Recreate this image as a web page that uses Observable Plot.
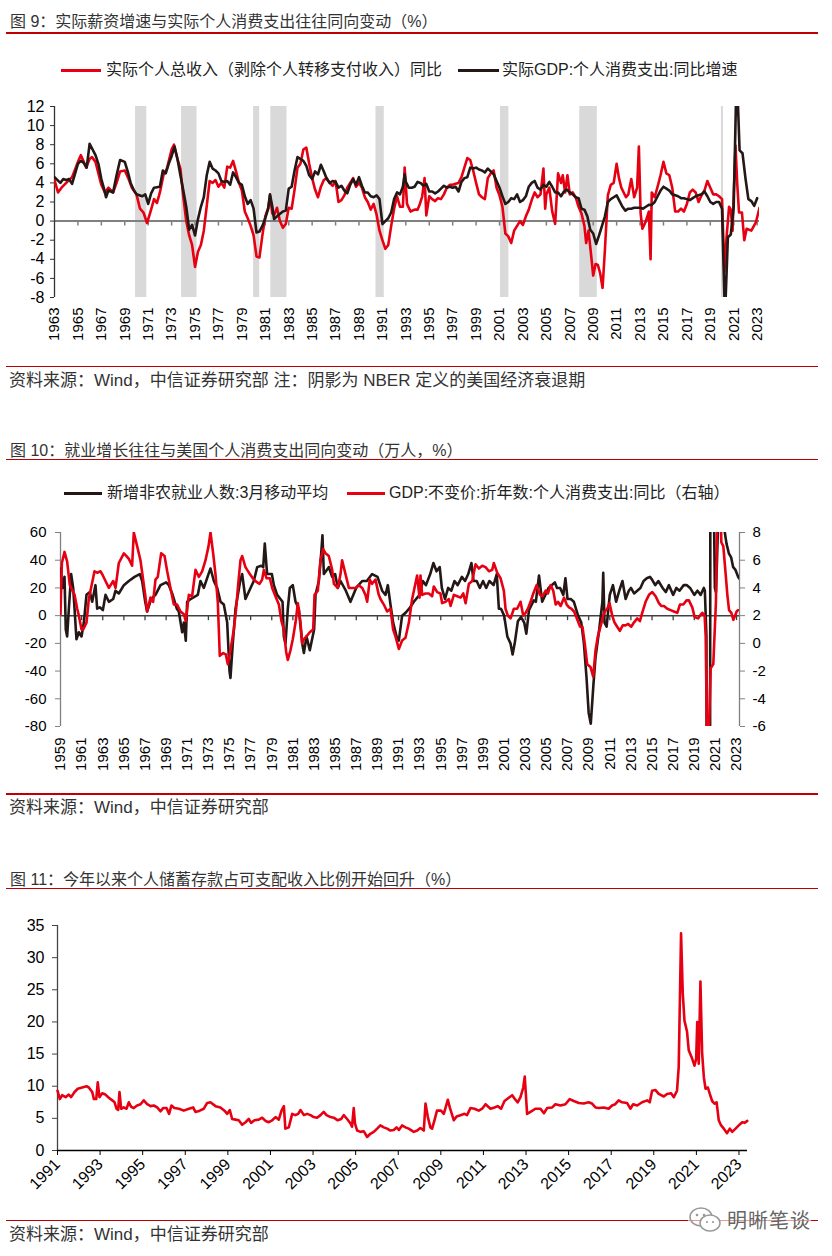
<!DOCTYPE html>
<html><head><meta charset="utf-8">
<script src="https://cdn.jsdelivr.net/npm/d3@7"></script>
<script src="https://cdn.jsdelivr.net/npm/@observablehq/plot@0.6"></script>
<style>
body{margin:0;background:#fff;}
#page{position:relative;width:832px;height:1256px;overflow:hidden;background:#fff;
  font-family:"Liberation Sans",Arial,"Noto Sans CJK SC",sans-serif;color:#333;}
.t{position:absolute;white-space:nowrap;line-height:20px;}
.title{font-size:16px;left:10px;color:#333;}
.src{font-size:17px;left:9px;color:#333;}
.leg{font-size:16px;color:#222;}
.rule{position:absolute;left:6px;width:812px;height:1.5px;background:#c00000;}
.sw{position:absolute;height:3px;}
.chart{position:absolute;left:0;}
</style></head>
<body><div id="page"></div>
<script>
// ---------------- DATA ----------------
// Chart 9: NBER recessions (start, end)
const recessions = [[1969.92,1970.88],[1973.85,1975.17],[1980.0,1980.52],[1981.47,1982.85],[1990.45,1991.16],[2001.08,2001.8],[2007.85,2009.35],[2019.95,2020.12]];
// Real personal income ex transfers, YoY %
const realIncome = [[1963.0,4.3],[1963.3,3.0],[1963.6,3.5],[1964.0,4.0],[1964.5,4.6],[1965.0,6.2],[1965.25,6.9],[1965.5,6.2],[1965.7,5.6],[1966.0,6.5],[1966.2,6.7],[1966.5,6.2],[1967.0,3.8],[1967.3,3.0],[1967.6,3.5],[1968.0,3.0],[1968.3,4.0],[1968.6,5.2],[1969.0,5.3],[1969.3,4.5],[1969.6,3.5],[1970.0,2.8],[1970.3,1.3],[1970.6,0.9],[1970.9,-0.2],[1971.2,1.0],[1971.5,2.3],[1971.75,1.9],[1972.0,3.0],[1972.3,4.8],[1972.6,5.5],[1973.0,7.5],[1973.2,8.0],[1973.5,6.5],[1973.75,5.5],[1974.0,2.5],[1974.25,0.0],[1974.5,-1.5],[1974.75,-2.5],[1975.0,-4.8],[1975.25,-3.2],[1975.5,-2.5],[1975.75,-1.0],[1976.0,1.6],[1976.25,4.2],[1976.5,4.0],[1976.75,4.3],[1977.0,3.6],[1977.25,4.0],[1977.5,3.5],[1977.75,5.7],[1978.0,5.6],[1978.25,6.3],[1978.5,5.2],[1978.75,4.0],[1979.0,3.2],[1979.25,1.0],[1979.5,0.3],[1979.75,-0.5],[1980.0,-1.5],[1980.25,-3.7],[1980.5,-3.8],[1980.75,-1.5],[1981.0,0.5],[1981.25,1.4],[1981.4,2.7],[1981.6,0.8],[1981.75,0.6],[1982.0,1.4],[1982.25,0.0],[1982.5,-0.7],[1982.75,-0.3],[1983.0,1.4],[1983.25,1.3],[1983.5,3.3],[1983.75,5.6],[1984.0,6.0],[1984.25,7.5],[1984.5,7.7],[1984.75,6.0],[1985.0,4.5],[1985.25,3.3],[1985.5,2.5],[1985.75,3.6],[1986.0,4.3],[1986.25,4.5],[1986.5,4.0],[1986.75,3.7],[1987.0,4.2],[1987.25,2.0],[1987.5,2.2],[1987.75,2.7],[1988.0,3.5],[1988.25,4.0],[1988.5,4.5],[1988.75,3.6],[1989.0,4.0],[1989.25,3.5],[1989.5,2.5],[1989.75,2.0],[1990.0,1.2],[1990.25,1.8],[1990.5,0.7],[1990.75,-1.0],[1991.0,-2.0],[1991.25,-2.9],[1991.5,-2.5],[1991.75,-0.5],[1992.0,1.3],[1992.25,2.6],[1992.5,1.5],[1992.75,1.5],[1992.9,5.6],[1993.1,1.8],[1993.4,1.0],[1993.75,1.2],[1994.0,1.2],[1994.2,1.8],[1994.4,2.6],[1994.6,4.5],[1994.75,0.6],[1995.0,2.6],[1995.25,2.3],[1995.5,2.1],[1995.75,2.4],[1996.0,2.3],[1996.25,2.8],[1996.5,3.5],[1996.75,3.8],[1997.0,3.8],[1997.25,3.9],[1997.5,4.0],[1997.75,4.6],[1998.0,5.6],[1998.25,6.6],[1998.5,6.4],[1998.75,5.3],[1999.0,4.0],[1999.25,2.8],[1999.5,2.5],[1999.75,2.3],[2000.0,4.5],[2000.25,5.0],[2000.5,5.3],[2000.75,3.5],[2001.0,2.7],[2001.25,1.5],[2001.5,-1.3],[2001.75,-1.6],[2002.0,-2.3],[2002.25,-1.0],[2002.5,-0.5],[2002.75,0.0],[2003.0,-0.4],[2003.25,0.5],[2003.5,1.2],[2003.75,2.2],[2004.0,3.0],[2004.25,2.5],[2004.5,2.8],[2004.75,5.5],[2004.9,1.3],[2005.0,2.8],[2005.25,3.5],[2005.5,1.0],[2005.75,-0.3],[2006.0,5.0],[2006.25,4.0],[2006.4,4.8],[2006.6,3.0],[2006.8,4.8],[2007.0,2.8],[2007.25,3.0],[2007.5,2.5],[2007.75,1.5],[2008.0,0.8],[2008.25,-0.5],[2008.4,-2.3],[2008.6,-1.0],[2008.8,-3.3],[2009.0,-5.7],[2009.2,-4.5],[2009.4,-4.6],[2009.6,-5.5],[2009.8,-7.0],[2010.0,-3.0],[2010.25,2.7],[2010.5,3.8],[2010.75,4.0],[2011.0,6.0],[2011.2,4.5],[2011.4,3.5],[2011.6,3.0],[2011.8,2.5],[2012.0,2.8],[2012.25,4.4],[2012.5,2.5],[2012.75,3.5],[2012.9,7.8],[2013.05,0.8],[2013.2,-0.8],[2013.5,0.0],[2013.75,1.0],[2013.9,-4.0],[2014.0,3.0],[2014.25,2.5],[2014.5,3.6],[2014.75,4.8],[2015.0,6.2],[2015.25,5.0],[2015.5,4.8],[2015.75,3.5],[2016.0,1.0],[2016.25,1.0],[2016.5,1.3],[2016.75,1.0],[2017.0,1.8],[2017.25,3.0],[2017.5,3.3],[2017.75,3.0],[2018.0,2.0],[2018.25,2.7],[2018.5,3.2],[2018.75,4.2],[2019.0,3.5],[2019.25,2.8],[2019.5,2.8],[2019.75,2.6],[2020.0,2.3],[2020.2,-5.3],[2020.4,-1.5],[2020.6,1.5],[2020.75,1.2],[2020.9,-1.0],[2021.0,3.0],[2021.15,7.9],[2021.3,3.9],[2021.45,0.9],[2021.7,0.9],[2021.9,-2.0],[2022.1,-0.8],[2022.5,-1.0],[2022.9,-0.1],[2023.2,1.4]];
// Real GDP: personal consumption expenditures, YoY %
const realPce = [[1963.0,4.6],[1963.5,4.0],[1963.75,4.4],[1964.0,4.3],[1964.25,4.4],[1964.5,3.9],[1965.0,6.0],[1965.25,6.3],[1965.5,6.1],[1965.75,5.6],[1966.0,8.1],[1966.5,6.9],[1966.75,6.0],[1967.0,4.4],[1967.25,3.3],[1967.4,2.5],[1967.6,3.2],[1968.0,3.0],[1968.3,4.8],[1968.6,6.4],[1969.0,6.2],[1969.25,5.2],[1969.5,4.0],[1969.75,3.3],[1970.0,2.8],[1970.5,2.6],[1970.75,2.8],[1971.0,1.8],[1971.25,2.9],[1971.5,3.5],[1972.0,3.6],[1972.25,5.3],[1972.5,5.0],[1972.75,6.0],[1973.0,6.8],[1973.25,7.8],[1973.5,6.5],[1973.75,4.8],[1974.0,3.2],[1974.25,1.5],[1974.5,-0.9],[1974.75,-0.4],[1975.0,-1.5],[1975.25,0.2],[1975.5,1.5],[1975.75,2.5],[1976.0,4.8],[1976.25,6.2],[1976.5,5.5],[1976.75,5.3],[1977.0,5.0],[1977.25,4.2],[1977.5,4.1],[1977.75,4.2],[1978.0,3.8],[1978.25,5.1],[1978.5,4.6],[1978.75,4.0],[1979.0,3.8],[1979.25,2.6],[1979.5,1.8],[1979.75,2.2],[1980.0,1.3],[1980.25,-1.2],[1980.5,-1.1],[1980.75,-0.5],[1981.0,0.3],[1981.25,1.3],[1981.4,2.8],[1981.6,1.5],[1981.75,0.2],[1982.0,0.5],[1982.5,1.0],[1982.75,1.1],[1983.0,3.4],[1983.25,3.6],[1983.5,5.3],[1983.75,6.7],[1984.0,6.5],[1984.25,6.3],[1984.5,5.8],[1984.75,4.8],[1985.0,4.4],[1985.25,5.2],[1985.5,4.9],[1985.75,5.9],[1986.0,5.2],[1986.25,4.4],[1986.5,4.0],[1986.75,4.2],[1987.0,4.1],[1987.25,3.5],[1987.5,3.7],[1987.75,3.2],[1988.0,2.9],[1988.25,3.8],[1988.5,4.4],[1988.75,3.8],[1989.0,4.6],[1989.25,3.7],[1989.5,3.0],[1989.75,3.0],[1990.0,2.6],[1990.25,2.5],[1990.5,2.7],[1990.75,2.3],[1991.0,-0.3],[1991.25,0.0],[1991.5,0.3],[1991.75,0.9],[1992.0,2.3],[1992.25,3.0],[1992.5,2.8],[1992.75,3.6],[1992.9,4.9],[1993.0,4.1],[1993.25,3.5],[1993.5,3.5],[1993.75,3.6],[1994.0,4.1],[1994.25,4.0],[1994.5,3.7],[1994.75,3.9],[1995.0,3.1],[1995.25,3.1],[1995.5,2.9],[1995.75,3.1],[1996.0,3.4],[1996.25,3.7],[1996.5,3.5],[1996.75,3.6],[1997.0,3.5],[1997.25,3.6],[1997.5,3.1],[1997.75,4.1],[1998.0,4.5],[1998.25,4.6],[1998.5,5.6],[1998.75,5.5],[1999.0,5.6],[1999.25,5.4],[1999.5,5.3],[1999.75,5.1],[2000.0,5.5],[2000.25,5.2],[2000.5,4.9],[2000.75,4.2],[2001.0,3.5],[2001.25,2.6],[2001.5,1.8],[2001.75,2.0],[2002.0,2.4],[2002.25,2.3],[2002.5,2.8],[2002.75,2.0],[2003.0,2.2],[2003.25,2.6],[2003.5,3.6],[2003.75,4.0],[2004.0,4.2],[2004.25,3.5],[2004.5,3.3],[2004.75,3.8],[2005.0,3.6],[2005.25,4.1],[2005.5,3.6],[2005.75,3.0],[2006.0,3.0],[2006.25,2.6],[2006.5,3.1],[2006.75,3.3],[2007.0,3.0],[2007.25,2.8],[2007.5,2.5],[2007.75,2.4],[2008.0,1.3],[2008.25,1.2],[2008.5,0.5],[2008.75,-0.9],[2009.0,-1.3],[2009.25,-2.4],[2009.5,-1.5],[2009.75,-0.5],[2010.0,0.5],[2010.25,2.0],[2010.5,2.3],[2010.75,2.5],[2011.0,2.7],[2011.25,2.1],[2011.5,1.5],[2011.75,1.1],[2012.0,1.3],[2012.25,1.3],[2012.5,1.4],[2012.75,1.4],[2013.0,1.4],[2013.25,1.3],[2013.5,1.5],[2013.75,1.7],[2014.0,1.7],[2014.25,2.0],[2014.5,2.6],[2014.75,3.2],[2015.0,3.6],[2015.25,3.4],[2015.5,3.2],[2015.75,2.8],[2016.0,2.7],[2016.25,2.6],[2016.5,2.4],[2016.75,2.4],[2017.0,2.3],[2017.25,2.2],[2017.5,2.4],[2017.75,2.6],[2018.0,2.7],[2018.25,2.8],[2018.5,3.1],[2018.75,2.6],[2019.0,2.0],[2019.25,1.8],[2019.5,2.0],[2019.75,2.0],[2020.0,1.3],[2020.25,-10.1],[2020.5,-1.7],[2020.75,-1.4],[2021.0,1.5],[2021.25,16.0],[2021.5,7.4],[2021.75,7.1],[2022.0,4.5],[2022.25,2.3],[2022.5,2.1],[2022.75,1.6],[2023.0,2.4]];
const years9 = d3.range(1963, 2024, 2);
const yTicks9 = d3.range(-8, 13, 2);

// Chart 10: nonfarm payrolls 3m MA (10k persons, left axis)
const payrolls = [[1959.0,34],[1959.19,20],[1959.38,28],[1959.5,-10],[1959.63,-15],[1959.79,5],[1960.01,30],[1960.2,20],[1960.33,5],[1960.51,-17],[1960.74,-12],[1960.99,-15],[1961.21,-5],[1961.46,15],[1961.78,17],[1962.0,10],[1962.31,22],[1962.47,5],[1962.72,6],[1963.01,4],[1963.26,15],[1963.58,10],[1963.99,12],[1964.21,18],[1964.52,16],[1965.0,22],[1965.47,25],[1966.01,28],[1966.51,30],[1966.73,25],[1967.02,10],[1967.2,3],[1967.58,12],[1967.99,15],[1968.47,22],[1969.0,24],[1969.26,22],[1969.57,16],[1970.01,5],[1970.2,3],[1970.52,-12],[1970.68,-5],[1970.86,-18],[1970.99,10],[1971.31,12],[1972.0,15],[1972.25,25],[1972.57,20],[1973.01,30],[1973.2,34],[1973.52,25],[1973.83,20],[1974.15,10],[1974.46,8],[1974.78,-5],[1975.0,-40],[1975.09,-45],[1975.31,-20],[1975.57,5],[1976.01,25],[1976.2,30],[1976.51,12],[1976.99,20],[1977.3,25],[1977.62,35],[1978.0,36],[1978.19,35],[1978.34,52],[1978.56,30],[1979.01,30],[1979.2,22],[1979.51,15],[1980.02,10],[1980.14,-15],[1980.3,-20],[1980.52,5],[1980.71,20],[1980.99,22],[1981.25,10],[1981.56,5],[1981.88,-20],[1982.04,-27],[1982.29,-15],[1982.6,-25],[1983.01,-10],[1983.14,15],[1983.46,25],[1983.68,45],[1983.8,58],[1983.93,30],[1984.4,35],[1984.72,28],[1985.0,30],[1985.25,20],[1985.51,25],[1986.01,18],[1986.45,10],[1986.99,20],[1987.56,25],[1988.0,25],[1988.5,30],[1989.01,28],[1989.45,18],[1989.77,15],[1989.99,22],[1990.24,8],[1990.49,-5],[1990.81,-15],[1991.03,-18],[1991.34,0],[1991.66,2],[1992.01,5],[1992.45,10],[1992.99,15],[1993.3,25],[1993.6,22],[1994.0,30],[1994.3,38],[1994.6,32],[1994.9,35],[1995.1,20],[1995.4,12],[1995.7,20],[1996.0,18],[1996.3,25],[1996.6,22],[1997.0,28],[1997.3,25],[1997.6,30],[1997.9,38],[1998.1,25],[1998.4,25],[1998.7,20],[1999.0,25],[1999.3,20],[1999.6,25],[2000.0,22],[2000.3,30],[2000.5,5],[2000.7,5],[2001.0,0],[2001.3,-15],[2001.6,-20],[2001.8,-28],[2002.0,-20],[2002.3,-4],[2002.6,-1],[2002.9,-5],[2003.1,-13],[2003.35,4],[2003.8,11],[2004.0,10],[2004.3,29],[2004.6,10],[2004.9,15],[2005.2,20],[2005.5,22],[2005.8,24],[2006.0,20],[2006.3,20],[2006.6,15],[2006.8,27],[2007.0,12],[2007.3,12],[2007.6,10],[2008.0,0],[2008.3,-5],[2008.55,-20],[2008.8,-45],[2009.0,-70],[2009.2,-78],[2009.45,-50],[2009.65,-30],[2010.0,-10],[2010.3,10],[2010.38,31],[2010.5,-5],[2010.7,-8],[2011.0,15],[2011.3,22],[2011.6,10],[2011.9,18],[2012.2,25],[2012.5,12],[2012.8,18],[2013.0,20],[2013.3,16],[2013.6,18],[2013.9,20],[2014.2,25],[2014.5,27],[2014.8,28],[2015.0,26],[2015.3,22],[2015.6,25],[2016.0,20],[2016.3,17],[2016.6,22],[2017.0,15],[2017.3,20],[2017.6,18],[2018.0,22],[2018.3,22],[2018.6,20],[2019.0,15],[2019.3,18],[2019.6,15],[2019.9,20],[2020.0,18],[2020.15,-15],[2020.3,-720],[2020.45,-430],[2020.55,307],[2020.65,200],[2020.75,130],[2020.85,80],[2020.95,20],[2021.05,17],[2021.15,40],[2021.25,65],[2021.4,70],[2021.55,75],[2021.7,70],[2021.85,62],[2022.05,52],[2022.27,45],[2022.49,42],[2022.68,35],[2022.9,33],[2023.15,28],[2023.35,26]];
// Real PCE YoY % (right axis)
const pceGrowth = [[1959.0,2.1],[1959.13,5.8],[1959.38,6.6],[1959.63,5.9],[1959.88,4.2],[1960.33,3.5],[1960.58,2.5],[1960.74,2.0],[1960.99,1.0],[1961.15,1.0],[1961.46,1.5],[1961.68,3.2],[1962.0,4.4],[1962.22,5.2],[1962.47,5.1],[1962.79,5.2],[1963.01,4.9],[1963.26,4.5],[1963.58,4.0],[1963.99,4.5],[1964.21,4.0],[1964.52,5.8],[1965.0,6.5],[1965.25,6.3],[1965.47,6.1],[1965.78,5.6],[1965.94,8.0],[1966.26,7.0],[1966.57,6.0],[1967.02,3.5],[1967.2,2.3],[1967.52,3.3],[1967.77,3.0],[1967.99,4.6],[1968.21,4.8],[1968.53,6.5],[1968.85,6.3],[1969.1,5.2],[1969.41,4.0],[1969.73,2.8],[1970.04,2.8],[1970.36,2.3],[1970.68,2.1],[1970.86,1.6],[1971.15,3.5],[1971.46,3.4],[1971.78,5.3],[1972.1,4.8],[1972.41,5.2],[1972.73,6.0],[1973.01,7.0],[1973.2,8.0],[1973.45,6.5],[1973.67,5.0],[1973.89,3.0],[1974.08,-0.9],[1974.4,-0.7],[1974.65,-0.8],[1974.84,-1.5],[1975.09,-0.5],[1975.41,1.0],[1975.63,2.5],[1975.79,4.0],[1976.04,6.0],[1976.2,6.3],[1976.51,5.5],[1976.67,5.3],[1976.92,5.0],[1977.3,4.6],[1977.62,4.4],[1977.84,4.3],[1978.09,4.6],[1978.25,5.3],[1978.5,4.7],[1978.82,4.7],[1979.04,4.0],[1979.35,3.4],[1979.67,2.8],[1979.92,1.6],[1980.14,1.0],[1980.36,-0.6],[1980.52,-1.2],[1980.77,-0.5],[1980.99,0.3],[1981.25,1.5],[1981.47,2.9],[1981.72,1.5],[1981.88,0.0],[1982.04,0.3],[1982.29,0.5],[1982.6,0.8],[1982.92,1.0],[1983.05,3.5],[1983.36,3.8],[1983.61,6.0],[1983.87,6.8],[1984.09,6.5],[1984.4,6.3],[1984.72,5.3],[1984.88,4.3],[1985.25,4.0],[1985.51,5.0],[1985.66,6.0],[1985.98,5.0],[1986.3,4.0],[1986.61,4.0],[1986.93,4.0],[1987.24,4.2],[1987.56,4.0],[1987.87,3.5],[1988.03,3.0],[1988.28,4.6],[1988.5,4.3],[1988.82,4.6],[1989.13,3.5],[1989.29,3.2],[1989.61,2.8],[1989.92,2.3],[1990.24,2.5],[1990.49,1.0],[1990.71,0.5],[1991.03,-0.4],[1991.34,0.2],[1991.66,0.4],[1991.98,1.5],[1992.29,3.2],[1992.76,4.9],[1992.99,3.3],[1993.08,4.9],[1993.24,3.5],[1993.55,3.6],[1993.87,3.6],[1994.18,3.4],[1994.34,4.1],[1994.66,3.7],[1994.97,3.6],[1995.13,2.9],[1995.45,3.0],[1995.77,3.2],[1995.93,2.7],[1996.24,3.5],[1996.56,3.4],[1996.88,3.3],[1997.13,3.6],[1997.35,2.9],[1997.66,4.3],[1997.98,4.5],[1998.29,5.7],[1998.61,5.4],[1998.92,5.6],[1999.24,5.5],[1999.56,5.2],[1999.87,5.3],[2000.02,5.8],[2000.34,5.1],[2000.66,4.7],[2000.97,3.8],[2001.13,2.5],[2001.35,2.0],[2001.61,1.8],[2001.92,2.5],[2002.23,2.5],[2002.55,3.0],[2002.81,2.0],[2003.03,2.2],[2003.25,2.5],[2003.5,3.0],[2003.76,3.6],[2004.07,4.2],[2004.39,3.5],[2004.64,3.4],[2004.93,3.8],[2005.15,3.6],[2005.4,4.2],[2005.65,3.8],[2005.88,2.8],[2006.1,3.0],[2006.35,2.7],[2006.67,3.3],[2006.92,2.8],[2007.14,2.6],[2007.36,2.5],[2007.62,2.3],[2007.93,1.7],[2008.19,1.2],[2008.41,1.2],[2008.63,0.0],[2008.86,-1.5],[2009.17,-1.7],[2009.43,-2.4],[2009.65,-0.5],[2009.87,0.5],[2010.19,1.4],[2010.44,2.2],[2010.76,2.5],[2010.98,2.9],[2011.23,2.0],[2011.45,1.5],[2011.7,1.2],[2011.95,0.9],[2012.23,1.3],[2012.49,1.3],[2012.74,1.4],[2013.03,1.2],[2013.28,1.5],[2013.6,1.8],[2013.85,1.6],[2014.07,2.2],[2014.39,3.0],[2014.71,3.5],[2015.02,3.7],[2015.34,3.4],[2015.65,2.9],[2015.87,2.7],[2016.13,2.7],[2016.44,2.5],[2016.76,2.4],[2017.07,2.3],[2017.39,2.2],[2017.64,2.8],[2017.96,2.8],[2018.27,3.1],[2018.49,3.1],[2018.81,2.6],[2019.03,1.9],[2019.35,1.8],[2019.54,2.0],[2019.76,2.2],[2019.98,2.0],[2020.08,0.5],[2020.25,-10.0],[2020.55,-1.8],[2020.8,-1.5],[2021.05,3.0],[2021.3,16.0],[2021.56,7.3],[2021.75,7.0],[2021.97,5.0],[2022.13,3.5],[2022.29,2.4],[2022.51,2.2],[2022.7,1.7],[2022.86,2.0],[2023.01,2.3],[2023.14,2.4]];
const years10 = d3.range(1959, 2024, 2);
const leftTicks10 = d3.range(-80, 61, 20);
const rightTicks10 = d3.range(-6, 9, 2);

// Chart 11: personal saving rate %
const savingRate = [[1991.0,9.3],[1991.11,8.0],[1991.22,8.6],[1991.38,8.3],[1991.53,8.7],[1991.64,8.3],[1991.8,9.1],[1991.95,9.6],[1992.16,9.8],[1992.36,10.0],[1992.47,9.8],[1992.63,9.1],[1992.71,8.0],[1992.82,8.0],[1992.89,10.6],[1992.97,8.3],[1993.1,8.9],[1993.25,8.7],[1993.41,8.2],[1993.57,7.8],[1993.68,7.5],[1993.77,6.5],[1993.85,6.3],[1993.91,9.1],[1993.99,6.5],[1994.11,6.7],[1994.24,6.5],[1994.35,7.5],[1994.46,6.8],[1994.58,6.6],[1994.74,7.0],[1994.9,7.2],[1995.05,7.8],[1995.21,7.2],[1995.37,6.9],[1995.52,7.0],[1995.68,6.7],[1995.84,6.1],[1995.96,6.6],[1996.12,6.6],[1996.24,5.7],[1996.35,7.0],[1996.49,6.6],[1996.7,6.5],[1996.93,6.2],[1997.17,6.5],[1997.37,6.7],[1997.48,6.0],[1997.68,6.2],[1997.87,6.5],[1998.03,7.4],[1998.18,7.5],[1998.42,6.9],[1998.65,6.7],[1998.84,6.2],[1998.97,5.7],[1999.09,6.3],[1999.2,4.9],[1999.36,4.8],[1999.51,4.7],[1999.67,4.0],[1999.83,4.4],[1999.98,4.9],[2000.09,4.3],[2000.25,4.7],[2000.45,4.8],[2000.61,5.1],[2000.77,4.6],[2000.92,4.4],[2001.08,4.7],[2001.24,5.2],[2001.39,4.8],[2001.52,6.2],[2001.63,6.9],[2001.7,3.4],[2001.86,3.6],[2002.02,5.7],[2002.17,5.5],[2002.3,5.7],[2002.41,6.3],[2002.57,5.5],[2002.72,5.7],[2002.88,5.5],[2003.03,5.2],[2003.19,5.1],[2003.35,5.5],[2003.5,6.0],[2003.63,5.5],[2003.82,5.2],[2003.97,5.1],[2004.16,4.7],[2004.32,4.9],[2004.44,5.5],[2004.6,4.9],[2004.76,4.2],[2004.83,3.7],[2004.91,6.6],[2004.97,4.2],[2005.07,3.1],[2005.23,2.9],[2005.38,3.0],[2005.54,2.1],[2005.69,2.6],[2005.85,2.9],[2006.01,3.4],[2006.16,3.9],[2006.32,3.6],[2006.48,3.4],[2006.63,3.1],[2006.79,3.2],[2006.92,3.6],[2007.03,3.2],[2007.18,3.9],[2007.34,3.6],[2007.49,3.4],[2007.73,2.9],[2007.89,3.1],[2008.04,3.5],[2008.2,3.1],[2008.28,7.3],[2008.39,5.2],[2008.51,3.6],[2008.59,3.4],[2008.7,4.7],[2008.82,6.2],[2009.01,6.2],[2009.14,5.7],[2009.33,7.9],[2009.42,6.7],[2009.61,4.7],[2009.74,5.3],[2009.92,5.5],[2010.11,5.7],[2010.23,5.5],[2010.39,6.6],[2010.58,6.5],[2010.78,6.2],[2010.94,6.5],[2011.1,7.2],[2011.33,6.5],[2011.52,6.7],[2011.67,6.9],[2011.83,6.5],[2011.99,7.7],[2012.19,8.2],[2012.35,8.6],[2012.5,7.9],[2012.61,7.5],[2012.74,8.3],[2012.87,9.8],[2012.94,11.5],[2013.05,5.7],[2013.21,6.0],[2013.44,6.5],[2013.68,6.5],[2013.84,5.8],[2013.99,6.6],[2014.23,6.7],[2014.38,7.2],[2014.62,7.0],[2014.85,7.2],[2015.05,8.0],[2015.24,7.7],[2015.48,7.4],[2015.71,7.3],[2015.94,7.5],[2016.1,7.3],[2016.26,6.7],[2016.41,6.6],[2016.65,6.7],[2016.88,6.5],[2017.04,7.0],[2017.19,7.2],[2017.35,7.8],[2017.51,7.5],[2017.74,7.4],[2017.9,6.5],[2018.03,7.2],[2018.22,7.0],[2018.45,7.5],[2018.69,7.8],[2018.81,7.5],[2018.92,9.3],[2019.08,9.4],[2019.23,8.8],[2019.47,8.4],[2019.62,8.8],[2019.81,8.9],[2019.94,8.3],[2020.09,9.3],[2020.17,13.0],[2020.28,33.8],[2020.36,24.5],[2020.44,20.2],[2020.56,18.5],[2020.64,15.6],[2020.8,14.3],[2020.91,13.2],[2020.99,14.3],[2021.04,20.0],[2021.11,13.5],[2021.19,26.3],[2021.27,15.1],[2021.35,11.4],[2021.43,9.6],[2021.54,9.8],[2021.63,8.8],[2021.74,7.7],[2021.85,7.3],[2021.95,7.5],[2022.05,4.7],[2022.16,3.9],[2022.29,3.4],[2022.44,2.7],[2022.57,3.4],[2022.68,2.9],[2022.84,3.4],[2022.99,3.9],[2023.15,4.4],[2023.26,4.3],[2023.39,4.6]];
const years11 = d3.range(1991, 2024, 2);
const yTicks11 = d3.range(0, 36, 5);

// ---------------- TEXT ----------------
const texts = {
  t9: "图 9：实际薪资增速与实际个人消费支出往往同向变动（%）",
  l9a: "实际个人总收入（剥除个人转移支付收入）同比",
  l9b: "实际GDP:个人消费支出:同比增速",
  s9: "资料来源：Wind，中信证券研究部 注：阴影为 NBER 定义的美国经济衰退期",
  t10: "图 10：就业增长往往与美国个人消费支出同向变动（万人，%）",
  l10a: "新增非农就业人数:3月移动平均",
  l10b: "GDP:不变价:折年数:个人消费支出:同比（右轴）",
  s10: "资料来源：Wind，中信证券研究部",
  t11: "图 11：今年以来个人储蓄存款占可支配收入比例开始回升（%）",
  s11: "资料来源：Wind，中信证券研究部",
  wm: "明晰笔谈"
};

// ---------------- LAYOUT ----------------
const page = document.getElementById("page");
const RED = "#e60012", BLACK = "#231815";
const FONT = '"Liberation Sans", Arial, sans-serif';
function addText(txt, cls, top, left) {
  const d = document.createElement("div");
  d.className = "t " + cls; d.textContent = txt;
  d.style.top = top + "px"; if (left != null) d.style.left = left + "px";
  page.appendChild(d); return d;
}
function addRule(top) {
  const d = document.createElement("div"); d.className = "rule"; d.style.top = top + "px"; page.appendChild(d);
}
function addSwatch(color, top, left, width) {
  const d = document.createElement("div"); d.className = "sw";
  Object.assign(d.style, {background: color, top: top + "px", left: left + "px", width: width + "px"});
  page.appendChild(d);
}
function addChart(svg, top) {
  const d = document.createElement("div"); d.className = "chart"; d.style.top = top + "px";
  d.appendChild(svg); page.appendChild(d);
}
const X = d => d[0], Y = d => d[1];

// ===== Chart 9 =====
addText(texts.t9, "title", 12); addRule(32);
addSwatch(RED, 68.5, 61, 40); addText(texts.l9a, "leg", 60, 106);
addSwatch(BLACK, 68.5, 458, 41); addText(texts.l9b, "leg", 60, 502);
{
  const h = 255, mT = 11, mB = 53, dom = [-8, 12], xdom = [1963, 2023.2];
  const tk = 5 * (dom[1] - dom[0]) / (h - mT - mB);
  addChart(Plot.plot({
    width: 832, height: h, marginLeft: 54, marginRight: 73, marginTop: mT, marginBottom: mB,
    x: {domain: xdom}, y: {domain: dom},
    style: {fontFamily: FONT, fontSize: "15px", color: "#000", background: "transparent", overflow: "visible"},
    marks: [
      Plot.rect(recessions, {x1: X, x2: Y, y1: dom[0], y2: dom[1], fill: "#d9d9d9"}),
      Plot.ruleY([0], {stroke: "#808080", strokeWidth: 2}),
      Plot.ruleX(years9.slice(1), {x: d => d, y1: 0, y2: -tk, stroke: "#808080", strokeWidth: 1.5}),
      Plot.ruleX([xdom[0]], {stroke: "#333", strokeWidth: 1.3}),
      Plot.axisY({ticks: yTicks9, tickSize: 4, tickPadding: 6, tickFormat: d => String(d), stroke: "#333", fontSize: 16}),
      Plot.axisX({ticks: years9, tickSize: 0, tickPadding: 10, tickRotate: -90, tickFormat: d => String(d)}),
      Plot.line(realIncome, {x: X, y: Y, stroke: RED, strokeWidth: 2.6, clip: true}),
      Plot.line(realPce, {x: X, y: Y, stroke: BLACK, strokeWidth: 2.6, clip: true})
    ]
  }), 95);
}
addRule(365.5); addText(texts.s9, "src", 371);

// ===== Chart 10 =====
addText(texts.t10, "title", 441); addRule(458.5);
addSwatch(BLACK, 491.5, 64, 38); addText(texts.l10a, "leg", 483, 107);
addSwatch(RED, 491.5, 347, 38); addText(texts.l10b, "leg", 483, 389);
{
  const h = 270, mT = 12, mB = 64, dom = [-80, 60], xdom = [1959, 2023.28];
  const tk = 5 * (dom[1] - dom[0]) / (h - mT - mB);
  const toLeft = r => (r - 2) * 10;
  addChart(Plot.plot({
    width: 832, height: h, marginLeft: 60, marginRight: 93, marginTop: mT, marginBottom: mB,
    x: {domain: xdom}, y: {domain: dom},
    style: {fontFamily: FONT, fontSize: "15px", color: "#000", background: "transparent", overflow: "visible"},
    marks: [
      Plot.ruleY([0], {stroke: "#404040", strokeWidth: 1.5}),
      Plot.ruleX(years10.slice(1), {x: d => d, y1: 0, y2: -tk, stroke: "#404040", strokeWidth: 1.3}),
      Plot.ruleX([xdom[0]], {stroke: "#808080", strokeWidth: 1.3}),
      Plot.ruleX([xdom[1]], {stroke: "#808080", strokeWidth: 1.3}),
      Plot.axisY({ticks: leftTicks10, tickSize: 5, tickPadding: 9, tickFormat: d => String(d), stroke: "#808080"}),
      Plot.axisY({anchor: "right", ticks: rightTicks10.map(toLeft), tickSize: 5, tickPadding: 8, tickFormat: d => String(d / 10 + 2), stroke: "#808080"}),
      Plot.axisX({ticks: years10, tickSize: 0, tickPadding: 11, tickRotate: -90, tickFormat: d => String(d)}),
      Plot.line(payrolls, {x: X, y: Y, stroke: BLACK, strokeWidth: 2.6, clip: true}),
      Plot.line(pceGrowth, {x: X, y: d => toLeft(d[1]), stroke: RED, strokeWidth: 2.6, clip: true})
    ]
  }), 520);
}
addRule(793); addText(texts.s10, "src", 798);

// ===== Chart 11 =====
addText(texts.t11, "title", 870); addRule(887.5);
{
  const h = 310, mT = 25, mB = 60, xdom = [1991, 2023.4];
  addChart(Plot.plot({
    width: 832, height: h, marginLeft: 57, marginRight: 85, marginTop: mT, marginBottom: mB,
    x: {domain: xdom}, y: {domain: [0, 35]},
    style: {fontFamily: FONT, fontSize: "16px", color: "#000", background: "transparent", overflow: "visible"},
    marks: [
      Plot.ruleX([xdom[0]], {stroke: "#444", strokeWidth: 1.3}),
      Plot.ruleY([0], {stroke: "#000", strokeWidth: 1.5}),
      Plot.axisY({ticks: yTicks11, tickSize: 5, tickPadding: 8, tickFormat: d => String(d), stroke: "#444"}),
      Plot.axisX({ticks: years11, tickSize: 5, tickPadding: 6, tickRotate: -45, tickFormat: d => String(d), stroke: "#000"}),
      Plot.line(savingRate, {x: X, y: Y, stroke: RED, strokeWidth: 2.6})
    ]
  }), 900);
}
addRule(1219.5); addText(texts.s11, "src", 1225);

// watermark
{
  const w = document.createElement("div");
  w.className = "t";
  Object.assign(w.style, {top: "1206px", left: "688px", fontSize: "20px", lineHeight: "28px", color: "#666", display: "flex", alignItems: "center", background: "rgba(255,255,255,0.6)"});
  w.innerHTML = '<svg width="34" height="28" viewBox="0 0 34 28"><ellipse cx="13" cy="11" rx="11" ry="9" fill="none" stroke="#999" stroke-width="1.5"/><ellipse cx="22" cy="17" rx="10" ry="8" fill="#fff" stroke="#999" stroke-width="1.5"/><circle cx="9" cy="9" r="1.3" fill="#999"/><circle cx="16" cy="9" r="1.3" fill="#999"/><circle cx="19" cy="16" r="1.1" fill="#999"/><circle cx="25" cy="16" r="1.1" fill="#999"/></svg><span style="margin-left:5px;font-family:\'Noto Sans CJK SC\';letter-spacing:1px">' + texts.wm + '</span>';
  page.appendChild(w);
}
</script></body></html>
